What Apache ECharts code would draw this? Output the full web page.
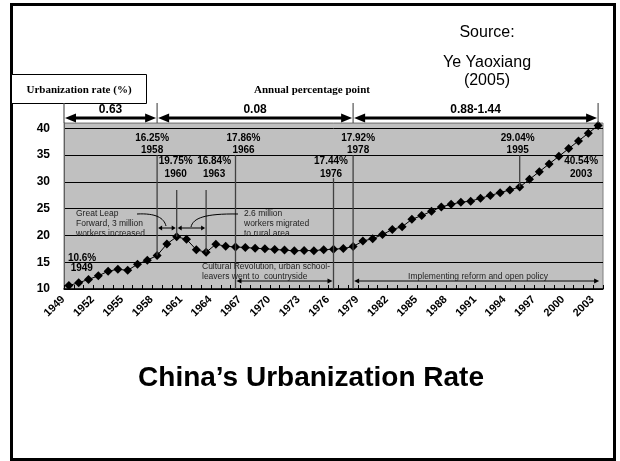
<!DOCTYPE html>
<html>
<head>
<meta charset="utf-8">
<script src="https://cdn.jsdelivr.net/npm/echarts@6/dist/echarts.min.js"></script>
<style>
html, body { margin: 0; padding: 0; background: #fff; }
#main { width: 620px; height: 461px; }
</style>
</head>
<body>
<div id="main"></div>
<script>
// categories: years
const years = ['1949','1950','1951','1952','1953','1954','1955','1956','1957','1958',
    '1959','1960','1961','1962','1963','1964','1965','1966','1967','1968',
    '1969','1970','1971','1972','1973','1974','1975','1976','1977','1978',
    '1979','1980','1981','1982','1983','1984','1985','1986','1987','1988',
    '1989','1990','1991','1992','1993','1994','1995','1996','1997','1998',
    '1999','2000','2001','2002','2003'];
// urbanization rate (%)
const rates = [10.64, 11.18, 11.78, 12.46, 13.31, 13.69, 13.48, 14.62, 15.39, 16.25,
    18.41, 19.75, 19.29, 17.33, 16.84, 18.37, 17.98, 17.86, 17.74, 17.62,
    17.50, 17.38, 17.26, 17.13, 17.20, 17.16, 17.34, 17.44, 17.55, 17.92,
    18.96, 19.39, 20.16, 21.13, 21.62, 23.01, 23.71, 24.52, 25.32, 25.81,
    26.21, 26.41, 26.94, 27.46, 27.99, 28.51, 29.04, 30.48, 31.91, 33.35,
    34.78, 36.22, 37.66, 39.09, 40.54];
const yTicks = [10, 15, 20, 25, 30, 35, 40];

// periods and their annual percentage point growth
const periodBounds = ['1949', '1958', '1978', '2003'];
const periodRates = ['0.63', '0.08', '0.88-1.44'];

// labelled points
const notedYears = ['1949', '1958', '1960', '1963', '1966', '1976', '1978', '1995', '2003'];
const notedRates = ['10.6%', '16.25%', '19.75%', '16.84%', '17.86%', '17.44%', '17.92%', '29.04%', '40.54%'];

const chart = echarts.init(document.getElementById('main'));

const boldSans = 'bold 10px "Liberation Sans", Arial, sans-serif';
const smallSans = '8.5px "Liberation Sans", Arial, sans-serif';
const boldSerif = 'bold 11px "Liberation Serif", "Times New Roman", serif';

chart.setOption({
    animation: false,
    grid: {
        left: 64, right: 17, top: 123, bottom: 172,
        show: true, backgroundColor: '#c0c0c0', borderColor: '#808080', borderWidth: 1
    },
    xAxis: {
        type: 'category',
        data: years,
        boundaryGap: true,
        axisLine: { lineStyle: { color: '#000', width: 1.5 } },
        axisTick: { show: true, inside: true, interval: 0, length: 4, lineStyle: { color: '#000' } },
        axisLabel: {
            interval: 2, rotate: 45, margin: 3, padding: [0, 8, 0, 0],
            color: '#000', fontWeight: 'bold', fontSize: 11, fontFamily: '"Liberation Sans", Arial, sans-serif'
        },
        splitLine: { show: false }
    },
    yAxis: {
        type: 'value',
        min: yTicks[0], max: 41, interval: 5,
        axisLine: { show: true, lineStyle: { color: '#606060', width: 1 } },
        axisTick: { show: false },
        axisLabel: {
            margin: 14, color: '#000', fontWeight: 'bold', fontSize: 12,
            fontFamily: '"Liberation Sans", Arial, sans-serif',
            formatter: v => (yTicks.indexOf(v) >= 0 ? String(v) : '')
        },
        splitLine: { show: true, lineStyle: { color: ['#000', '#000', '#000', '#000', '#000', '#000', '#000', '#909090'], width: 1 } }
    },
    series: [{
        type: 'line',
        data: rates,
        symbol: 'diamond',
        symbolSize: 9,
        showSymbol: true,
        showAllSymbol: true,
        itemStyle: { color: '#000' },
        lineStyle: { color: '#000', width: 1 },
        z: 5
    }]
});

const X = y => chart.convertToPixel({ xAxisIndex: 0 }, y);
const Y = v => chart.convertToPixel({ yAxisIndex: 0 }, v);
const valueOf = y => rates[years.indexOf(y)];
const band = X(years[1]) - X(years[0]);

const g = [];
const lineEl = (x1, y1, x2, y2, color, w) => g.push({
    type: 'line', z: 10, silent: true,
    shape: { x1, y1, x2, y2 }, style: { stroke: color, lineWidth: w }
});
const textEl = (txt, x, y, font, align, fill) => g.push({
    type: 'text', z: 11, silent: true, x, y,
    style: { text: txt, font, fill: fill || '#000', align: align || 'center', verticalAlign: 'middle', lineHeight: 10 }
});
const head = (x, y, dir, len, half, color) => g.push({
    type: 'polygon', z: 11, silent: true,
    shape: { points: [[x, y], [x - dir * len, y - half], [x - dir * len, y + half]] },
    style: { fill: color }
});
const dblArrow = (x1, x2, y, w, len, half, color) => {
    lineEl(x1 + len * 0.6, y, x2 - len * 0.6, y, color, w);
    head(x1, y, -1, len, half, color);
    head(x2, y, 1, len, half, color);
};

// frame
g.push({ type: 'rect', z: 1, silent: true, shape: { x: 11.5, y: 4.5, width: 603, height: 455 },
    style: { fill: null, stroke: '#000', lineWidth: 3 } });
// y-axis title box
g.push({ type: 'rect', z: 2, silent: true, shape: { x: 11.5, y: 74.5, width: 135, height: 29 },
    style: { fill: '#fff', stroke: '#000', lineWidth: 1 } });
textEl('Urbanization rate (%)', 79, 90, boldSerif);
textEl('Annual percentage point', 312, 90, boldSerif);

// source
textEl('Source:', 487, 33, '16px "Liberation Sans", Arial, sans-serif');
textEl('Ye Yaoxiang', 487, 63, '16px "Liberation Sans", Arial, sans-serif');
textEl('(2005)', 487, 81, '16px "Liberation Sans", Arial, sans-serif');

// title
textEl('China\u2019s Urbanization Rate', 311, 378, 'bold 28px "Liberation Sans", Arial, sans-serif');

// period arrows above the plot
const bx = periodBounds.map((y, i) => (i === 0 ? X(y) - band / 2 : X(y)));
bx.forEach(x => lineEl(x, 103, x, 123, '#555', 1.2));
for (let i = 0; i < periodRates.length; i++) {
    dblArrow(bx[i] + 1, bx[i + 1] - 1, 118, 3, 11, 4.5, '#000');
    textEl(periodRates[i], (bx[i] + bx[i + 1]) / 2, 110, 'bold 12px "Liberation Sans", Arial, sans-serif');
}

// vertical guide lines [year, from value, to value or null for the point]
const guides = [['1958', 35, null], ['1960', 28.5, null], ['1963', 28.5, null], ['1966', 35, 10],
    ['1976', 30.7, 10], ['1978', 35, 10], ['1995', 35, null]];
guides.forEach(([yr, a, b]) => {
    const x = X(yr);
    lineEl(x, Y(a), x, Y(b === null ? valueOf(yr) : b), '#404040', 1.3);
});

// point labels: [dx, upper row?]
const labelPos = { '1958': [-5, 1], '1960': [-1, 0], '1963': [8, 0], '1966': [8, 1],
    '1976': [-2.5, 0], '1978': [5, 1], '1995': [-2, 1], '2003': [-17, 0] };
notedYears.forEach((yr, i) => {
    if (yr === '1949') {
        textEl(notedRates[i] + '\n 1949', X(yr) - 1, 263, 'bold 10px "Liberation Sans", Arial, sans-serif', 'left');
        return;
    }
    const [dx, upper] = labelPos[yr];
    const x = X(yr) + dx;
    const y0 = upper ? 138 : 161.5;
    textEl(notedRates[i], x, y0, boldSans);
    textEl(yr, x, y0 + 12.5, boldSans);
});

// Great Leap Forward notes
textEl('Great Leap\nForward, 3 million\nworkers increased', 76, 224, smallSans, 'left', '#222');
textEl('2.6 million\nworkers migrated\nto rural area', 244, 224, smallSans, 'left', '#222');
dblArrow(X('1958') + 1, X('1960') - 1, 228, 1, 4, 2.5, '#000');
dblArrow(X('1960') + 1, X('1963') - 1, 228, 1, 4, 2.5, '#000');
g.push({ type: 'bezierCurve', z: 10, silent: true,
    shape: { x1: 137, y1: 214, cpx1: 156, cpy1: 213, cpx2: 164, cpy2: 218, x2: 166, y2: 226 },
    style: { stroke: '#000', lineWidth: 1, fill: null } });
g.push({ type: 'bezierCurve', z: 10, silent: true,
    shape: { x1: 191, y1: 227, cpx1: 193, cpy1: 218, cpx2: 205, cpy2: 213.5, x2: 238, y2: 214 },
    style: { stroke: '#000', lineWidth: 1, fill: null } });

// bottom brackets
textEl('Cultural Revolution, urban school-\nleavers went to  countryside', 202, 272, smallSans, 'left', '#222');
dblArrow(X('1966') + 1, X('1976') - 1, 281, 1, 5, 2.5, '#000');
textEl('Implementing reform and open policy', 478, 276.5, smallSans, 'center', '#222');
dblArrow(X('1978') + 1, X('2003') + 1, 281, 1, 5, 2.5, '#000');

chart.setOption({ graphic: g });
</script>
</body>
</html>
